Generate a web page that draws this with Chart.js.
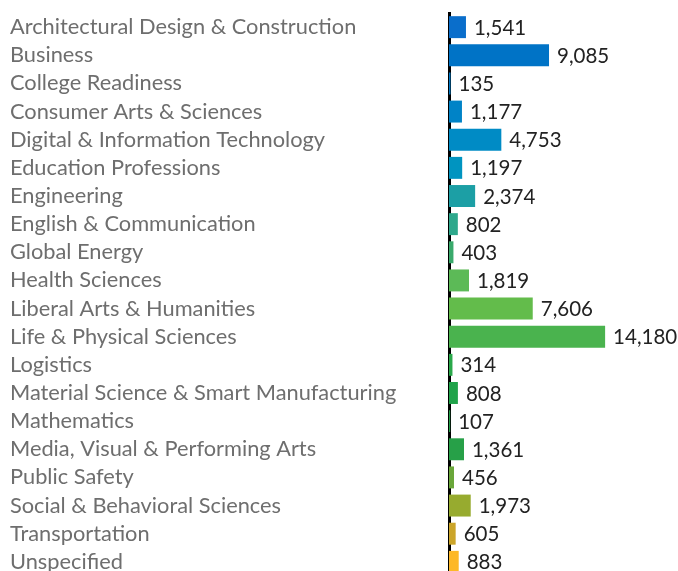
<!DOCTYPE html>
<html>
<head>
<meta charset="utf-8">
<script src="https://cdn.jsdelivr.net/npm/chart.js@4"></script>
<style>
  html, body { margin: 0; padding: 0; background: #fff; overflow: hidden; }
  #wrap { width: 678px; height: 589px; position: relative; }
</style>
</head>
<body>
<div id="wrap"><canvas id="barChart"></canvas></div>
<script>
var categories = [
  'Architectural Design & Construction', 'Business', 'College Readiness',
  'Consumer Arts & Sciences', 'Digital & Information Technology',
  'Education Professions', 'Engineering', 'English & Communication',
  'Global Energy', 'Health Sciences', 'Liberal Arts & Humanities',
  'Life & Physical Sciences', 'Logistics', 'Material Science & Smart Manufacturing',
  'Mathematics', 'Media, Visual & Performing Arts', 'Public Safety',
  'Social & Behavioral Sciences', 'Transportation', 'Unspecified'
];
var enrollments = [1541, 9085, 135, 1177, 4753, 1197, 2374, 802, 403, 1819,
                   7606, 14180, 314, 808, 107, 1361, 456, 1973, 605, 883];
var barColors = [
  '#0a6ecb', '#0073c6', '#0079c6', '#0083c7', '#008bc5', '#0094c0',
  '#1c9fa5', '#2ea88c', '#3aaa6c', '#5cba57', '#63bc4b', '#4ab34e',
  '#2aa84a', '#20a34a', '#22a049', '#27a048', '#6aa73a', '#97ab2f',
  '#cba52a', '#fdb827'
];

document.addEventListener("DOMContentLoaded", function() {

    // value labels at the end of each bar
    var valueLabels = {
        id: 'valueLabels',
        afterDatasetsDraw: function(chart) {
            var ctx = chart.ctx;
            var meta = chart.getDatasetMeta(0);
            ctx.save();
            ctx.font = '20.5px Lato';
            ctx.fillStyle = '#222222';
            ctx.textAlign = 'left';
            ctx.textBaseline = 'middle';
            meta.data.forEach(function(bar, i) {
                ctx.fillText(enrollments[i].toLocaleString('en-US'), bar.x + 8, bar.y + 1);
            });
            ctx.restore();
        }
    };

    var ctxBar = document.getElementById('barChart').getContext('2d');
    var barChart = new Chart(ctxBar, {
        type: 'bar',
        data: {
            labels: categories,
            datasets: [{
                data: enrollments,
                backgroundColor: barColors,
                barPercentage: 0.78,
                categoryPercentage: 1
            }]
        },
        options: {
            indexAxis: 'y',
            responsive: true,
            maintainAspectRatio: false,
            animation: false,
            layout: { padding: { left: 10, top: 12, right: 0, bottom: 0 } },
            plugins: {
                legend: { display: false },
                tooltip: { enabled: false }
            },
            scales: {
                x: {
                    display: false,
                    min: 0,
                    max: 20800
                },
                y: {
                    grid: { display: false, drawTicks: false },
                    border: { display: true, color: '#000000', width: 3 },
                    ticks: {
                        crossAlign: 'far',
                        color: '#6e6e6e',
                        font: { family: 'Lato', size: 21.8 },
                        padding: 0,
                        autoSkip: false
                    },
                    afterFit: function(scale) {
                        scale.width = 439;
                    }
                }
            }
        },
        plugins: [valueLabels]
    });
});
</script>
</body>
</html>
